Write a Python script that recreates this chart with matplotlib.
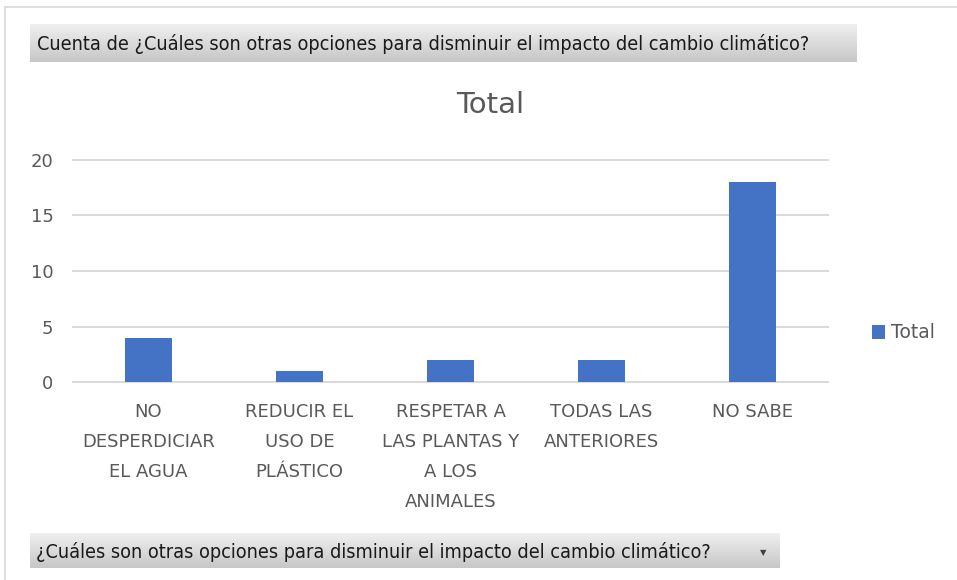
import numpy as np
import matplotlib.pyplot as plt

categories = ["NO\nDESPERDICIAR\nEL AGUA", "REDUCIR EL\nUSO DE\nPLÁSTICO",
              "RESPETAR A\nLAS PLANTAS Y\nA LOS\nANIMALES", "TODAS LAS\nANTERIORES", "NO SABE"]
values = [4, 1, 2, 2, 18]
yticks = [0, 5, 10, 15, 20]
series_name = "Total"
header_text = "Cuenta de ¿Cuáles son otras opciones para disminuir el impacto del cambio climático?"
footer_text = "¿Cuáles son otras opciones para disminuir el impacto del cambio climático?"

W, H = 957, 580
fig = plt.figure(figsize=(W/100, H/100), dpi=100)
fig.patch.set_facecolor("white")

def fx(x): return x / W
def fy(y): return 1 - y / H

# outer frame
fig.add_artist(plt.Line2D([fx(5), fx(5)], [fy(7), fy(580)], color="#d9d9d9", lw=1.2))
fig.add_artist(plt.Line2D([fx(5), fx(957)], [fy(7), fy(7)], color="#d9d9d9", lw=1.2))

def grad_box(x0, y0, x1, y1):
    ax = fig.add_axes([fx(x0), fy(y1), fx(x1 - x0), (y1 - y0) / H])
    g = np.linspace(0, 1, 64)
    top = np.array([0.94, 0.94, 0.94]); bot = np.array([0.78, 0.78, 0.78])
    cols = (top[None, :] * (1 - g[:, None]) + bot[None, :] * g[:, None])[:, None, :]
    ax.imshow(cols, aspect="auto", extent=[0, 1, 0, 1])
    ax.set_xlim(0, 1); ax.set_ylim(0, 1)
    ax.axis("off")
    return ax

hb = grad_box(30, 24, 857, 62)
hb.text(7 / 827, 0.47, header_text, va="center", ha="left", fontsize=14.2,
        color="#1a1a1a", fontstretch="condensed", family="DejaVu Sans")
fb = grad_box(30, 533, 780, 568)
fb.text(6 / 750, 0.47, footer_text, va="center", ha="left", fontsize=14.2,
        color="#1a1a1a", fontstretch="condensed", family="DejaVu Sans")
fb.text(0.977, 0.45, "▼", va="center", ha="center", fontsize=6, color="#404040")

# main axes
x0, x1 = 73, 828
ytop, ybot = 160, 382
ax = fig.add_axes([fx(x0), fy(ybot), fx(x1 - x0), (ybot - ytop) / H])
x = np.arange(len(categories))
ax.bar(x, values, width=0.31, color="#4472c4", zorder=3, label=series_name)
ax.set_xlim(-0.5, len(categories) - 0.5)
ax.set_ylim(0, 20)
ax.set_yticks(yticks)
for yv in yticks:
    ax.axhline(yv, color="#d9d9d9", lw=1.4, zorder=0, clip_on=False)
for s in ax.spines.values():
    s.set_visible(False)
ax.tick_params(axis="both", length=0, labelsize=13, colors="#595959")
ax.tick_params(axis="y", pad=14)
ax.set_xticks(x)
ax.set_xticklabels(categories, linespacing=1.85, va="top")
ax.tick_params(axis="x", pad=15)
fig.text(fx(490), fy(105), "Total", ha="center", va="center", fontsize=21, color="#595959")
leg = fig.legend(loc="center left", bbox_to_anchor=(fx(855), fy(333)), frameon=False,
                 fontsize=13.5, handlelength=0.7, handleheight=0.7, handletextpad=0.3,
                 labelcolor="#595959")
fig.savefig("out.png", dpi=100)
